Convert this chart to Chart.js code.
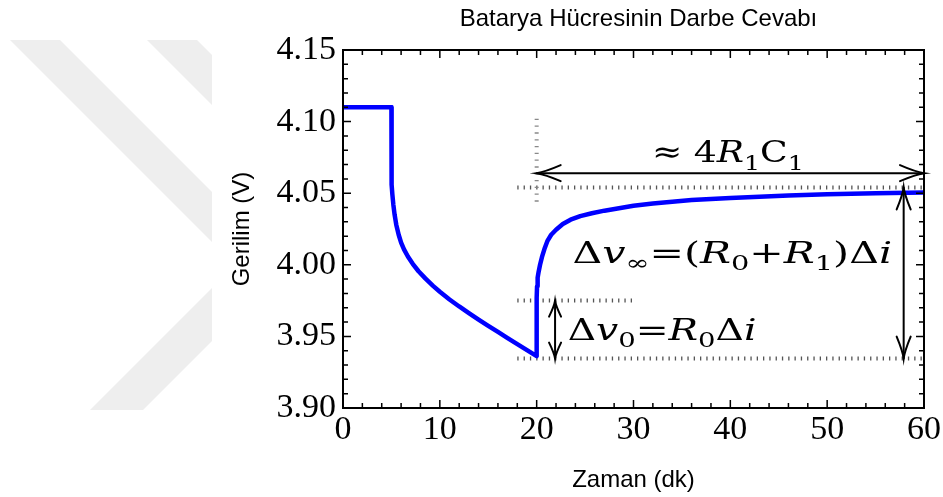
<!DOCTYPE html>
<html>
<head>
<meta charset="utf-8">
<title>Batarya Hücresinin Darbe Cevabı</title>
<script src="https://cdn.jsdelivr.net/npm/chart.js@4.4.1/dist/chart.umd.min.js"></script>
<style>
  html, body { margin: 0; padding: 0; background: #fff; }
  canvas { display: block; }
</style>
</head>
<body>
<canvas id="pulseChart" width="943" height="497"></canvas>
<script>
// Darbe cevabı: zaman (dk) ve gerilim (V)
const timeMin = [0, 5, 5, 5.04, 5.1, 5.2, 5.33, 5.5, 5.75, 6.0,
                 6.3, 6.7, 7.2, 7.8, 8.5, 9.3, 10, 11, 12, 13,
                 14, 15, 16, 17, 18, 19, 20,
                 20, 20.04, 20.1, 20.2, 20.35, 20.55, 20.8, 21.1, 21.5, 22,
                 22.7, 23.5, 24.5, 25.7, 27, 28.5, 30, 32, 34, 36,
                 38, 40, 43, 46, 50, 55, 60];
const voltage = [4.110, 4.110, 4.066, 4.056, 4.049, 4.042, 4.035, 4.028, 4.021, 4.0155,
                 4.0108, 4.0058, 4.0007, 3.9955, 3.9905, 3.9853, 3.9812, 3.9758, 3.9709, 3.9663,
                 3.9618, 3.9574, 3.9531, 3.9488, 3.9446, 3.9404, 3.9362,
                 3.977, 3.985, 3.991, 3.995, 4.000, 4.0055, 4.011, 4.0165, 4.021, 4.0245,
                 4.0285, 4.0315, 4.034, 4.036, 4.0378, 4.0395, 4.0412, 4.0428, 4.0441, 4.0452,
                 4.046, 4.0467, 4.0476, 4.0484, 4.0492, 4.0499, 4.0505];

const xTicks = [0, 10, 20, 30, 40, 50, 60];
const yTicks = [3.90, 3.95, 4.00, 4.05, 4.10, 4.15];

// işaret seviyeleri (V) ve zamanları (dk)
const vStart = 3.936;      // darbe sonu
const vJump = 3.975;       // anlık sıçrama
const vFinal = 4.054;      // uzun süreli değer
const vArrowTop = 4.064;   // 4R1C1 oku
const tPulseEnd = 20;
const tEnd = 60;
const tDv0Arrow = 21.9;
const tDvInfArrow = 57.9;

const FONT_SANS = '"Liberation Sans", Arial, sans-serif';
const FONT_SERIF = '"Liberation Serif", "Times New Roman", serif';
const FONT_MATH = '"DejaVu Serif", serif';

const points = timeMin.map((t, i) => ({ x: t, y: voltage[i] }));

function arrowHead(ctx, x, y, dx, dy, len, half) {
    // dx,dy: ok yönü (birim vektör)
    const bx = x - dx * len, by = y - dy * len;
    const px = -dy, py = dx;
    ctx.beginPath();
    ctx.moveTo(bx + px * half, by + py * half);
    ctx.quadraticCurveTo(x - dx * len * 0.35 + px * half * 0.15, y - dy * len * 0.35 + py * half * 0.15, x, y);
    ctx.quadraticCurveTo(x - dx * len * 0.35 - px * half * 0.15, y - dy * len * 0.35 - py * half * 0.15, bx - px * half, by - py * half);
    ctx.stroke();
}

function doubleArrow(ctx, x1, y1, x2, y2, len, half) {
    const L = Math.hypot(x2 - x1, y2 - y1);
    const dx = (x2 - x1) / L, dy = (y2 - y1) / L;
    ctx.beginPath();
    ctx.moveTo(x1, y1);
    ctx.lineTo(x2, y2);
    ctx.stroke();
    arrowHead(ctx, x2, y2, dx, dy, len, half);
    arrowHead(ctx, x1, y1, -dx, -dy, len, half);
}

// matematik ifadesi: [metin, biçim]  n=düz, i=italik, s=alt indis
function mathFont(kind, size) {
    if (kind === 'i') return 'italic ' + size + 'px ' + FONT_MATH;
    if (kind === 's') return Math.round(size * 0.7) + 'px ' + FONT_MATH;
    return size + 'px ' + FONT_MATH;
}

function drawMath(ctx, parts, xLeft, xRight, baseline, size) {
    let w = 0;
    const widths = parts.map(p => {
        ctx.font = mathFont(p[1], size);
        const pw = ctx.measureText(p[0]).width;
        w += pw;
        return pw;
    });
    const sx = (xRight - xLeft) / w;
    ctx.save();
    ctx.translate(xLeft, baseline);
    ctx.scale(sx, 1);
    ctx.fillStyle = '#000';
    ctx.textBaseline = 'alphabetic';
    ctx.textAlign = 'left';
    let x = 0;
    parts.forEach((p, i) => {
        ctx.font = mathFont(p[1], size);
        ctx.fillText(p[0], x, p[1] === 's' ? size * 0.25 : 0);
        x += widths[i];
    });
    ctx.restore();
}

const capLabel = [['≈', 'n'], [' 4', 'n'], ['R', 'i'], ['1', 's'], ['C', 'n'], ['1', 's']];
const dvInfLabel = [['Δ', 'n'], ['v', 'i'], ['∞', 's'], ['=', 'n'], ['(', 'n'], ['R', 'i'], ['0', 's'],
                    ['+', 'n'], ['R', 'i'], ['1', 's'], [')', 'n'], ['Δ', 'n'], ['i', 'i']];
const dv0Label = [['Δ', 'n'], ['v', 'i'], ['0', 's'], ['=', 'n'], ['R', 'i'], ['0', 's'], ['Δ', 'n'], ['i', 'i']];

const decor = {
    id: 'decor',
    beforeDraw(chart) {
        const ctx = chart.ctx;
        ctx.save();
        ctx.fillStyle = '#fff';
        ctx.fillRect(0, 0, chart.width, chart.height);
        // arka plandaki soluk filigran
        ctx.beginPath();
        ctx.rect(0, 0, 212, chart.height);
        ctx.clip();
        ctx.fillStyle = '#eeeeee';
        const bands = [
            [[10, 40], [60, 40], [300, 280], [250, 280]],
            [[147, 40], [197, 40], [397, 240], [347, 240]],
            [[90, 410], [143, 410], [353, 200], [300, 200]]
        ];
        bands.forEach(b => {
            ctx.beginPath();
            b.forEach((p, i) => i ? ctx.lineTo(p[0], p[1]) : ctx.moveTo(p[0], p[1]));
            ctx.closePath();
            ctx.fill();
        });
        ctx.restore();
    },
    beforeDatasetsDraw(chart) {
        const ctx = chart.ctx;
        const xs = chart.scales.x, ys = chart.scales.y;
        ctx.save();
        // noktalı yardımcı çizgiler
        ctx.strokeStyle = '#555';
        ctx.lineWidth = 4;
        ctx.setLineDash([1.3, 5]);
        const hLine = (t1, t2, v) => {
            ctx.beginPath();
            ctx.moveTo(xs.getPixelForValue(t1), ys.getPixelForValue(v));
            ctx.lineTo(xs.getPixelForValue(t2), ys.getPixelForValue(v));
            ctx.stroke();
        };
        hLine(18, tEnd, vFinal);
        hLine(18, 30, vJump);
        hLine(18, tEnd, vStart - 0.0015);
        ctx.strokeStyle = '#888';
        ctx.setLineDash([1.3, 5.5]);
        ctx.beginPath();
        ctx.moveTo(xs.getPixelForValue(tPulseEnd), ys.getPixelForValue(4.102));
        ctx.lineTo(xs.getPixelForValue(tPulseEnd), ys.getPixelForValue(4.044));
        ctx.stroke();
        ctx.restore();
    },
    afterDraw(chart) {
        const ctx = chart.ctx;
        const a = chart.chartArea;
        const xs = chart.scales.x, ys = chart.scales.y;
        ctx.save();
        // çerçeve ve içe doğru tik işaretleri
        ctx.strokeStyle = '#000';
        ctx.lineWidth = 2;
        ctx.strokeRect(a.left, a.top, a.right - a.left, a.bottom - a.top);
        ctx.lineWidth = 1.5;
        ctx.beginPath();
        for (let t = 0; t <= 60; t += 2) {
            const x = xs.getPixelForValue(t);
            const len = t % 10 === 0 ? 8 : 5;
            ctx.moveTo(x, a.bottom); ctx.lineTo(x, a.bottom - len);
            ctx.moveTo(x, a.top); ctx.lineTo(x, a.top + len);
        }
        for (let i = 0; i <= 25; i++) {
            const y = ys.getPixelForValue(3.9 + i * 0.01);
            const len = i % 5 === 0 ? 8 : 5;
            ctx.moveTo(a.left, y); ctx.lineTo(a.left + len, y);
            ctx.moveTo(a.right, y); ctx.lineTo(a.right - len, y);
        }
        ctx.stroke();

        // oklar
        ctx.lineWidth = 2;
        ctx.lineCap = 'round';
        const yTop = ys.getPixelForValue(vArrowTop);
        doubleArrow(ctx, xs.getPixelForValue(tPulseEnd), yTop, xs.getPixelForValue(tEnd), yTop, 24, 8);
        const x0 = xs.getPixelForValue(tDv0Arrow);
        doubleArrow(ctx, x0, ys.getPixelForValue(vJump), x0, ys.getPixelForValue(vStart - 0.0015), 16, 6);
        const x1 = xs.getPixelForValue(tDvInfArrow);
        doubleArrow(ctx, x1, ys.getPixelForValue(vFinal), x1, ys.getPixelForValue(vStart - 0.0015), 22, 7);

        // ifadeler
        drawMath(ctx, capLabel, xs.getPixelForValue(31.9), xs.getPixelForValue(47.6), ys.getPixelForValue(4.0715), 30);
        drawMath(ctx, dvInfLabel, xs.getPixelForValue(23.7), xs.getPixelForValue(56.7), ys.getPixelForValue(4.0013), 30);
        drawMath(ctx, dv0Label, xs.getPixelForValue(23.2), xs.getPixelForValue(42.7), ys.getPixelForValue(3.9476), 30);

        // başlık
        ctx.fillStyle = '#000';
        ctx.font = '24px ' + FONT_SANS;
        ctx.textAlign = 'center';
        ctx.textBaseline = 'alphabetic';
        ctx.fillText('Batarya Hücresinin Darbe Cevabı', (a.left + a.right) / 2 + 5, a.top - 24);
        ctx.restore();
    }
};

const chart = new Chart(document.getElementById('pulseChart').getContext('2d'), {
    type: 'scatter',
    data: {
        datasets: [{
            data: points,
            showLine: true,
            borderColor: '#0000ff',
            borderWidth: 4.5,
            borderJoinStyle: 'round',
            pointRadius: 0,
            fill: false,
            tension: 0
        }]
    },
    options: {
        responsive: false,
        animation: false,
        devicePixelRatio: 1,
        layout: { padding: { top: 50, right: 18, left: 0, bottom: 0 } },
        plugins: {
            legend: { display: false },
            tooltip: { enabled: false }
        },
        scales: {
            x: {
                type: 'linear',
                min: 0,
                max: 60,
                grid: { display: false, drawTicks: false },
                border: { display: false },
                afterBuildTicks: s => { s.ticks = xTicks.map(v => ({ value: v })); },
                ticks: {
                    color: '#000',
                    padding: 2,
                    maxRotation: 0,
                    font: { family: FONT_SERIF, size: 34 },
                    callback: v => String(v)
                },
                title: {
                    display: true,
                    text: 'Zaman (dk)',
                    color: '#000',
                    font: { family: FONT_SANS, size: 24 },
                    padding: { top: 0, bottom: 2 }
                },
                afterFit: s => { s.height = 89; }
            },
            y: {
                min: 3.9,
                max: 4.15,
                grid: { display: false, drawTicks: false },
                border: { display: false },
                afterBuildTicks: s => { s.ticks = yTicks.map(v => ({ value: v })); },
                ticks: {
                    color: '#000',
                    padding: 7,
                    font: { family: FONT_SERIF, size: 34 },
                    callback: v => v.toFixed(2)
                },
                title: {
                    display: true,
                    text: 'Gerilim (V)',
                    color: '#000',
                    font: { family: FONT_SANS, size: 24 },
                    padding: { top: 228, bottom: 0 }
                },
                afterFit: s => { s.width = 343; }
            }
        }
    },
    plugins: [decor]
});
</script>
</body>
</html>
